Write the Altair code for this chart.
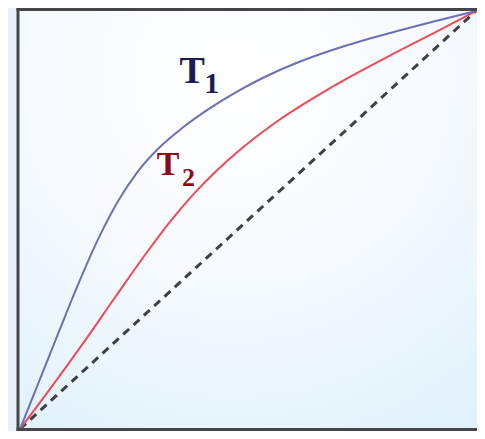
import altair as alt
import pandas as pd

# Curve T1 (upper, blue) and T2 (lower, red)
t1_x = [0.0, 0.0862, 0.1293, 0.1724, 0.2155, 0.2586, 0.3017, 0.3556, 0.4159, 0.4741, 0.5388, 0.6034, 0.6832, 0.7543, 0.8254, 0.9052, 1.0]
t1_y = [0.0, 0.2353, 0.3506, 0.4565, 0.5459, 0.6165, 0.6694, 0.7200, 0.7671, 0.8061, 0.8433, 0.8744, 0.9061, 0.9301, 0.9515, 0.9741, 1.0]

t2_x = [0.0, 0.0647, 0.1401, 0.2112, 0.2759, 0.3341, 0.3815, 0.4310, 0.4741, 0.5603, 0.6832, 0.8254, 0.9052, 1.0]
t2_y = [0.0, 0.0941, 0.2078, 0.3193, 0.4193, 0.5028, 0.5631, 0.6179, 0.6602, 0.7332, 0.8176, 0.9014, 0.9459, 1.0]

diag_x = [0.0, 1.0]
diag_y = [0.0, 1.0]

# labels: main letter and subscript
label_text = ["T", "1", "T", "2"]
label_x = [0.350, 0.404, 0.300, 0.355]
label_y = [0.828, 0.805, 0.607, 0.581]
label_series = ["T1", "T1s", "T2", "T2s"]

W, H = 459, 423
xs = alt.Scale(domain=[-0.0044, 1.0022], nice=False, zero=False)
ys = alt.Scale(domain=[-0.0048, 1.0072], nice=False, zero=False)
noax = None

t1 = pd.DataFrame({"x": t1_x, "y": t1_y})
t2 = pd.DataFrame({"x": t2_x, "y": t2_y})
dg = pd.DataFrame({"x": diag_x, "y": diag_y})
lab = pd.DataFrame({"text": label_text, "x": label_x, "y": label_y, "s": label_series})

one = pd.DataFrame({"a": [0]})

bg = alt.Chart(one).mark_rect(
    fill={
        "gradient": "radial",
        "x1": 0.45, "y1": 0.2, "r1": 0.0,
        "x2": 0.45, "y2": 0.2, "r2": 0.95,
        "stops": [
            {"offset": 0.0, "color": "#ffffff"},
            {"offset": 0.45, "color": "#f6fafe"},
            {"offset": 1.0, "color": "#dcf0fb"},
        ],
    },
).encode(x=alt.value(0), x2=alt.value(W + 20), y=alt.value(0), y2=alt.value(H))

frame_color = "#45454a"
f_left = alt.Chart(one).mark_rule(color=frame_color, strokeWidth=3).encode(
    x=alt.value(0), y=alt.value(0), y2=alt.value(H))
f_top = alt.Chart(one).mark_rule(color=frame_color, strokeWidth=3).encode(
    x=alt.value(-1.5), x2=alt.value(W + 20), y=alt.value(1.5))
f_bot = alt.Chart(one).mark_rule(color=frame_color, strokeWidth=3).encode(
    x=alt.value(-1.5), x2=alt.value(W + 20), y=alt.value(H - 1.5))

def line(df, color, width, dash=None):
    kw = dict(color=color, strokeWidth=width, interpolate="monotone")
    if dash:
        kw["strokeDash"] = dash
    return alt.Chart(df).mark_line(**kw).encode(
        x=alt.X("x:Q", scale=xs, axis=noax),
        y=alt.Y("y:Q", scale=ys, axis=noax),
    )

l_diag = line(dg, "#3f3f46", 3, [8, 6])
l_t2 = line(t2, "#ef4a55", 2)
l_t1 = line(t1, "#6c70b4", 2)

def txt(df, color, size):
    return alt.Chart(df).mark_text(
        font="Liberation Serif", fontWeight="bold", fontSize=size,
        align="left", baseline="alphabetic", color=color,
    ).encode(
        x=alt.X("x:Q", scale=xs, axis=noax),
        y=alt.Y("y:Q", scale=ys, axis=noax),
        text="text:N",
    )

labs = [
    txt(lab[lab.s == "T1"], "#1c1c4e", 38),
    txt(lab[lab.s == "T1s"], "#1c1c4e", 30),
    txt(lab[lab.s == "T2"], "#8e0b14", 34),
    txt(lab[lab.s == "T2s"], "#8e0b14", 26),
]

chart = alt.layer(bg, l_diag, l_t2, l_t1, *labs, f_left, f_top, f_bot).properties(
    width=W, height=H,
    padding={"left": 10, "top": 0, "right": 0, "bottom": 0},
    autosize=alt.AutoSizeParams(type="none"),
    background="#e5f2fb",
).configure_view(stroke=None)

chart.save("out.html", embed_options={"renderer": "svg", "actions": False})
